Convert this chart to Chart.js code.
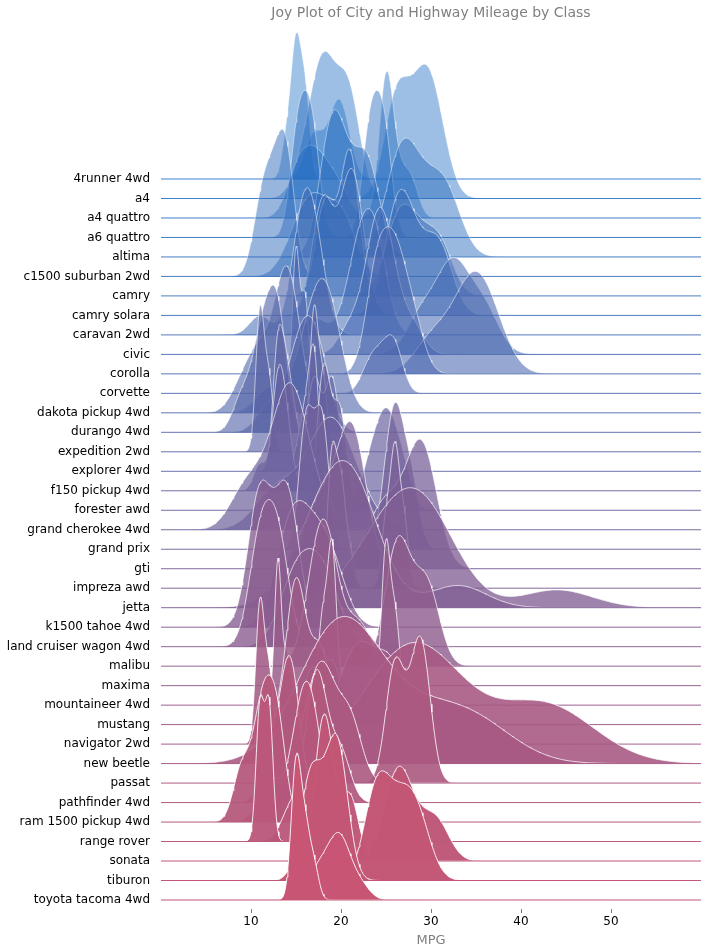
<!DOCTYPE html>
<html>
<head>
<meta charset="utf-8">
<script src="https://cdn.jsdelivr.net/npm/chart.js@4.4.1/dist/chart.umd.min.js"></script>
<style>
  html, body { margin: 0; padding: 0; background: #fff; }
  #wrap { width: 708px; height: 952px; }
</style>
</head>
<body>
<div id="wrap"><canvas id="joy"></canvas></div>
<script>
// one row per model, top to bottom
var models = ['4runner 4wd', 'a4', 'a4 quattro', 'a6 quattro', 'altima', 'c1500 suburban 2wd',
  'camry', 'camry solara', 'caravan 2wd', 'civic', 'corolla', 'corvette', 'dakota pickup 4wd',
  'durango 4wd', 'expedition 2wd', 'explorer 4wd', 'f150 pickup 4wd', 'forester awd',
  'grand cherokee 4wd', 'grand prix', 'gti', 'impreza awd', 'jetta', 'k1500 tahoe 4wd',
  'land cruiser wagon 4wd', 'malibu', 'maxima', 'mountaineer 4wd', 'mustang', 'navigator 2wd',
  'new beetle', 'passat', 'pathfinder 4wd', 'ram 1500 pickup 4wd', 'range rover', 'sonata',
  'tiburon', 'toyota tacoma 4wd'];

// city mileage of each car of the model
var cityMpg = [
  [15, 16, 15, 15, 16, 14], [18, 21, 20, 21, 16, 18, 18], [18, 16, 20, 19, 15, 17, 17, 15],
  [15, 17, 16], [21, 19, 23, 23, 19, 19], [14, 11, 14, 13, 12], [21, 21, 21, 21, 18, 18, 19],
  [21, 21, 21, 22, 18, 18, 18], [18, 17, 16, 16, 17, 17, 11, 15, 15, 16, 16],
  [28, 24, 25, 23, 24, 26, 25, 24, 21], [24, 24, 26, 28, 26], [16, 15, 16, 15, 15],
  [15, 14, 13, 14, 14, 14, 9, 11, 11], [13, 12, 9, 13, 11, 13, 11], [11, 11, 12],
  [14, 15, 14, 13, 13, 13], [14, 14, 13, 13, 13, 11, 13], [18, 18, 20, 19, 20, 18],
  [17, 15, 15, 14, 9, 14, 13, 11], [18, 16, 17, 18, 16], [21, 19, 21, 22, 17],
  [21, 19, 19, 19, 20, 20, 19, 20], [33, 21, 19, 22, 21, 21, 21, 16, 17], [14, 11, 11, 14],
  [11, 13], [19, 22, 18, 18, 17], [18, 19, 19], [14, 13, 13, 13],
  [18, 18, 17, 16, 15, 15, 15, 15, 14], [11, 11, 12], [35, 29, 21, 19, 20, 20],
  [21, 18, 19, 21, 16, 18, 17], [14, 15, 14, 12], [12, 9, 13, 13, 12, 9, 11, 11, 13, 11],
  [11, 12, 12, 11], [18, 18, 21, 21, 18, 18, 19], [19, 19, 20, 20, 17, 16, 17],
  [15, 16, 17, 15, 15, 15, 16]
];

// highway mileage, same cars
var hwyMpg = [
  [20, 20, 19, 17, 20, 17], [29, 29, 31, 30, 26, 26, 27], [26, 25, 28, 27, 25, 25, 25, 25],
  [24, 25, 23], [29, 27, 31, 32, 27, 26], [20, 15, 20, 17, 17], [29, 27, 31, 31, 26, 26, 28],
  [27, 29, 31, 31, 26, 26, 27], [24, 24, 22, 22, 24, 24, 17, 22, 21, 23, 23],
  [33, 32, 32, 29, 32, 34, 36, 36, 29], [30, 33, 35, 37, 35], [26, 23, 26, 25, 24],
  [19, 18, 17, 17, 19, 19, 12, 17, 15], [17, 16, 12, 17, 15, 18, 15], [17, 17, 18],
  [17, 19, 17, 19, 19, 17], [17, 17, 16, 16, 17, 15, 17], [25, 24, 27, 25, 26, 23],
  [22, 19, 20, 17, 12, 19, 18, 14], [26, 26, 27, 28, 25], [29, 26, 29, 29, 24],
  [26, 26, 26, 26, 25, 27, 25, 27], [44, 29, 26, 29, 29, 29, 29, 23, 24], [19, 14, 15, 17],
  [15, 18], [27, 30, 26, 29, 26], [26, 25, 25], [17, 19, 19, 17],
  [26, 25, 26, 24, 21, 22, 23, 22, 20], [17, 16, 18], [44, 41, 29, 26, 28, 29],
  [29, 29, 28, 29, 26, 26, 26], [17, 17, 20, 18], [16, 12, 17, 17, 16, 12, 15, 16, 17, 15],
  [15, 18, 18, 15], [26, 27, 30, 31, 26, 26, 28], [26, 29, 28, 27, 24, 24, 24],
  [20, 20, 22, 17, 19, 18, 20]
];

var xTicks = [10, 20, 30, 40, 50];

var xMin = 0, xMax = 60;
var N = models.length;
var topRgb = [23, 108, 197];
var bottomRgb = [200, 85, 115];
var RIDGE = 7.55;   // tallest curve of a row, in rows

var xs = [];
for (var k = 0; k <= 600; k++) xs.push(xMin + k * (xMax - xMin) / 600);

// gaussian kde, scott bandwidth (same as scipy)
function kde(vals) {
  var n = vals.length;
  var mean = vals.reduce(function (a, b) { return a + b; }, 0) / n;
  var ss = 0;
  vals.forEach(function (v) { ss += (v - mean) * (v - mean); });
  var bw = Math.sqrt(ss / (n - 1)) * Math.pow(n, -0.2);
  var norm = 1 / (n * bw * Math.sqrt(2 * Math.PI));
  return xs.map(function (x) {
    var s = 0;
    vals.forEach(function (v) { var z = (x - v) / bw; s += Math.exp(-0.5 * z * z); });
    return s * norm;
  });
}

var datasets = [];
models.forEach(function (m, i) {
  var base = N - 1 - i;
  var t = i / (N - 1);
  var rgb = topRgb.map(function (c, j) { return Math.round(c + (bottomRgb[j] - c) * t); });
  var alpha = 0.4 + (i + 1) * 0.6 / N;
  var lineAlpha = 0.85 + 0.15 * t;
  var dH = kde(hwyMpg[i]);
  var dC = kde(cityMpg[i]);
  var peak = Math.max(Math.max.apply(null, dH), Math.max.apply(null, dC));

  [dH, dC].forEach(function (d, k) {
    datasets.push({
      data: xs.map(function (x, j) { return { x: x, y: base + d[j] / peak * RIDGE }; }),
      backgroundColor: 'rgba(' + rgb.join(',') + ',' + alpha.toFixed(3) + ')',
      borderColor: 'rgba(255,255,255,' + alpha.toFixed(3) + ')',
      borderWidth: 0.9,
      fill: { value: base },
      order: (N - 1 - i) * 3 + 2 - k
    });
  });
  // baseline of the row, drawn over its own curves
  datasets.push({
    data: [{ x: xMin, y: base }, { x: xMax, y: base }],
    borderColor: 'rgba(' + rgb.join(',') + ',' + lineAlpha.toFixed(3) + ')',
    borderWidth: 1,
    fill: false,
    order: (N - 1 - i) * 3
  });
});

var font = 'DejaVu Sans';
new Chart(document.getElementById('joy').getContext('2d'), {
  type: 'line',
  data: { datasets: datasets },
  options: {
    responsive: true,
    maintainAspectRatio: false,
    animation: false,
    events: [],
    layout: { padding: { left: 0, right: 7, top: 0, bottom: 0 } },
    elements: { point: { radius: 0 }, line: { tension: 0 } },
    plugins: {
      legend: { display: false },
      tooltip: { enabled: false },
      title: {
        display: true,
        fullSize: false,
        text: 'Joy Plot of City and Highway Mileage by Class',
        color: '#808080',
        font: { family: font, size: 14, weight: 'normal' },
        padding: { top: 4.6, bottom: 6.6 }
      }
    },
    scales: {
      x: {
        type: 'linear',
        min: xMin,
        max: xMax,
        border: { display: false },
        grid: { drawOnChartArea: false, drawTicks: true, tickLength: 4, color: '#777' },
        ticks: { color: '#000', font: { family: font, size: 12 }, padding: 2, maxRotation: 0 },
        title: {
          display: true, text: 'MPG', color: '#808080',
          font: { family: font, size: 13 }, padding: { top: 0, bottom: 4 }
        },
        afterBuildTicks: function (s) { s.ticks = xTicks.map(function (v) { return { value: v }; }); },
        afterFit: function (s) { s.height = 43; }
      },
      y: {
        type: 'linear',
        min: -0.462,
        max: 44.749,
        border: { display: false },
        grid: { display: false, drawTicks: false },
        ticks: {
          color: '#000', font: { family: font, size: 12 }, padding: 11, autoSkip: false,
          callback: function (v) { return models[N - 1 - v]; }
        },
        afterBuildTicks: function (s) { s.ticks = models.map(function (m, i) { return { value: N - 1 - i }; }); },
        afterFit: function (s) { s.width = 161; }
      }
    }
  }
});
</script>
</body>
</html>
